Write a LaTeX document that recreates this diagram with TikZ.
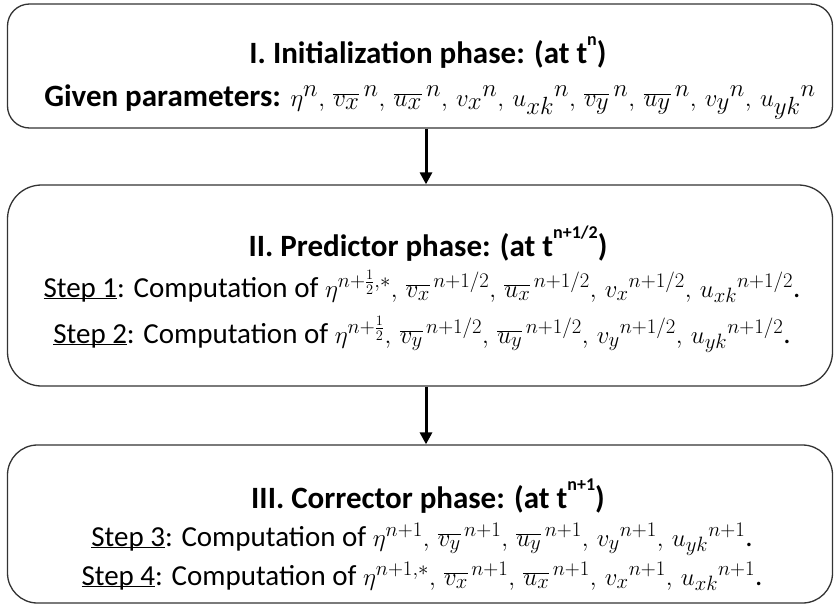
\documentclass[tikz,border=0pt]{standalone}
\usepackage{fontspec}
\setmainfont{Carlito}
\DeclareMathSizes{29}{29}{21}{15}
\DeclareMathSizes{31}{31}{23}{16}
\usetikzlibrary{arrows.meta}
\newcommand{\tsup}[1]{\raisebox{0.55em}{\fontsize{18}{20}\selectfont #1}}
\newcommand{\stepul}[1]{\underline{\smash{#1}}}
\begin{document}
\begin{tikzpicture}[x=1pt,y=-1pt,
  phase/.style={draw=black!80, line width=1.3pt, rounded corners=#1, inner sep=0pt},
  phase/.default=22pt,
  ttl/.style={font=\fontsize{31}{35}\selectfont\bfseries, inner sep=0pt, anchor=base},
  txt/.style={font=\fontsize{29}{33}\selectfont, inner sep=0pt, anchor=base},
  gtxt/.style={font=\fontsize{31}{35}\selectfont, inner sep=0pt, anchor=base},
  flow/.style={line width=3pt, -{Triangle[length=12pt,width=12pt]}}]
\useasboundingbox (0,0) rectangle (834,605);
\node[phase=22pt, minimum width=825pt, minimum height=124pt] (b1) at (420,66) {};
\node[phase=34pt, minimum width=825pt, minimum height=201pt] (b2) at (420,285.5) {};
\node[phase=30pt, minimum width=825pt, minimum height=158pt] (b3) at (420,524) {};
\node[ttl] (t1) at (428,63) {I. Initialization phase: (at t\tsup{n})};
\node[gtxt] (l1) at (430,106) {\textbf{Given parameters:} $\eta^{n},\, \overline{v_x}^{\,n},\, \overline{u_x}^{\,n},\, v_x{}^{n},\, u_{xk}{}^{n},\, \overline{v_y}^{\,n},\, \overline{u_y}^{\,n},\, v_y{}^{n},\, u_{yk}{}^{n}$};
\node[ttl] (t2) at (428,256) {II. Predictor phase: (at t\tsup{n+1/2})};
\node[txt] (s1) at (422,297) {\stepul{Step 1}: Computation of $\smash{\eta^{n+\frac{1}{2},*}},\, \overline{v_x}^{\,n+1/2},\, \overline{u_x}^{\,n+1/2},\, v_x{}^{n+1/2},\, u_{xk}{}^{n+1/2}$.};
\node[txt] (s2) at (422,343) {\stepul{Step 2}: Computation of $\smash{\eta^{n+\frac{1}{2}}},\, \overline{v_y}^{\,n+1/2},\, \overline{u_y}^{\,n+1/2},\, v_y{}^{n+1/2},\, u_{yk}{}^{n+1/2}$.};
\node[ttl] (t3) at (428,508) {III. Corrector phase: (at t\tsup{n+1})};
\node[txt] (s3) at (422,546) {\stepul{Step 3}: Computation of $\eta^{n+1},\, \overline{v_y}^{\,n+1},\, \overline{u_y}^{\,n+1},\, v_y{}^{n+1},\, u_{yk}{}^{n+1}$.};
\node[txt] (s4) at (422,585) {\stepul{Step 4}: Computation of $\eta^{n+1,*},\, \overline{v_x}^{\,n+1},\, \overline{u_x}^{\,n+1},\, v_x{}^{n+1},\, u_{xk}{}^{n+1}$.};
\draw[flow] (b1.south -| 426,0) -- (b2.north -| 426,0);
\draw[flow] (b2.south -| 426,0) -- (b3.north -| 426,0);
\end{tikzpicture}
\end{document}
